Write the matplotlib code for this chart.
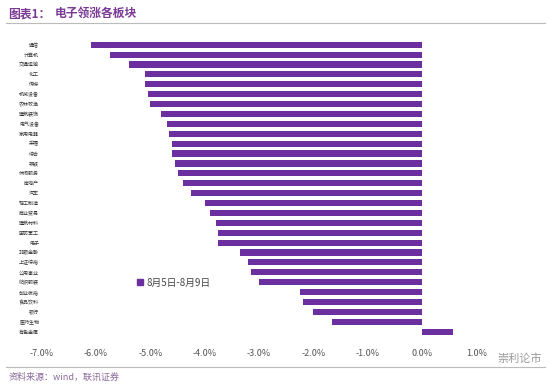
import matplotlib
matplotlib.use("Agg")
import matplotlib.pyplot as plt
from matplotlib.lines import Line2D
from matplotlib.patches import Patch

plt.rcParams['font.family'] = ['Noto Sans CJK SC', 'DejaVu Sans']

# ─────────────────────────────────────────────
# data (weekly change, %), top to bottom
# ─────────────────────────────────────────────
sectors = ["通信", "计算机", "交通运输", "化工", "传媒", "机械设备", "农林牧渔",
           "建筑装饰", "电气设备", "家用电器", "采掘", "综合", "钢铁", "休闲服务",
           "房地产", "汽车", "轻工制造", "商业贸易", "建筑材料", "国防军工", "电子",
           "非银金融", "上证综指", "公用事业", "纺织服装", "创业板指", "食品饮料",
           "银行", "医药生物", "有色金属"]
changes = [-6.1, -5.75, -5.4, -5.1, -5.1, -5.05, -5.0,
           -4.8, -4.7, -4.65, -4.6, -4.6, -4.55, -4.5,
           -4.4, -4.25, -4.0, -3.9, -3.8, -3.75, -3.75,
           -3.35, -3.2, -3.15, -3.0, -2.25, -2.2,
           -2.0, -1.65, 0.58]
xticks = [-7, -6, -5, -4, -3, -2, -1, 0, 1]
legend_label = "8月5日-8月9日"

purple = "#6b2fa0"

fig = plt.figure(figsize=(5.5, 3.88), dpi=100)
ax = fig.add_axes([0.076, 0.13, 0.79, 0.77])

ypos = list(range(len(sectors)))
ax.barh(ypos, changes, height=0.62, color=purple)
ax.set_yticks(ypos)
ax.set_yticklabels(sectors, fontsize=3.6, color="#333333")
ax.set_ylim(len(sectors) - 0.4, -0.6)

ax.set_xlim(-7, 1)
ax.set_xticks(xticks)
ax.set_xticklabels([f"{v:.1f}%" for v in xticks], fontsize=6.5, color="#555555")
ax.tick_params(axis="both", length=0)
ax.tick_params(axis="x", pad=8)
ax.tick_params(axis="y", pad=2)
for s in ax.spines.values():
    s.set_visible(False)

leg = ax.legend(handles=[Patch(color=purple, label=legend_label)],
                loc="upper left", bbox_to_anchor=(0.2, 0.23), frameon=False,
                fontsize=7, handlelength=0.6, handleheight=0.6, handletextpad=0.3)
for t in leg.get_texts():
    t.set_color("#444444")

# title and footer
fig.text(0.015, 0.965, "图表1：", fontsize=8.5, fontweight="bold", color="#7a3a96", va="center")
fig.text(0.10, 0.965, "电子领涨各板块", fontsize=8.5, fontweight="bold", color="#7a3a96", va="center")
fig.add_artist(Line2D([0.01, 0.99], [0.94, 0.94], color="#bbbbbb", lw=0.8))
fig.add_artist(Line2D([0.01, 0.99], [0.055, 0.055], color="#bbbbbb", lw=0.8))
fig.text(0.015, 0.027, "资料来源：wind，联讯证券", fontsize=6.5, color="#8a6a9a",
         style="italic", va="center")
fig.text(0.985, 0.075, "崇利论市", fontsize=8, color="#999999", ha="right", va="center")

fig.savefig("out.png", dpi=100)
